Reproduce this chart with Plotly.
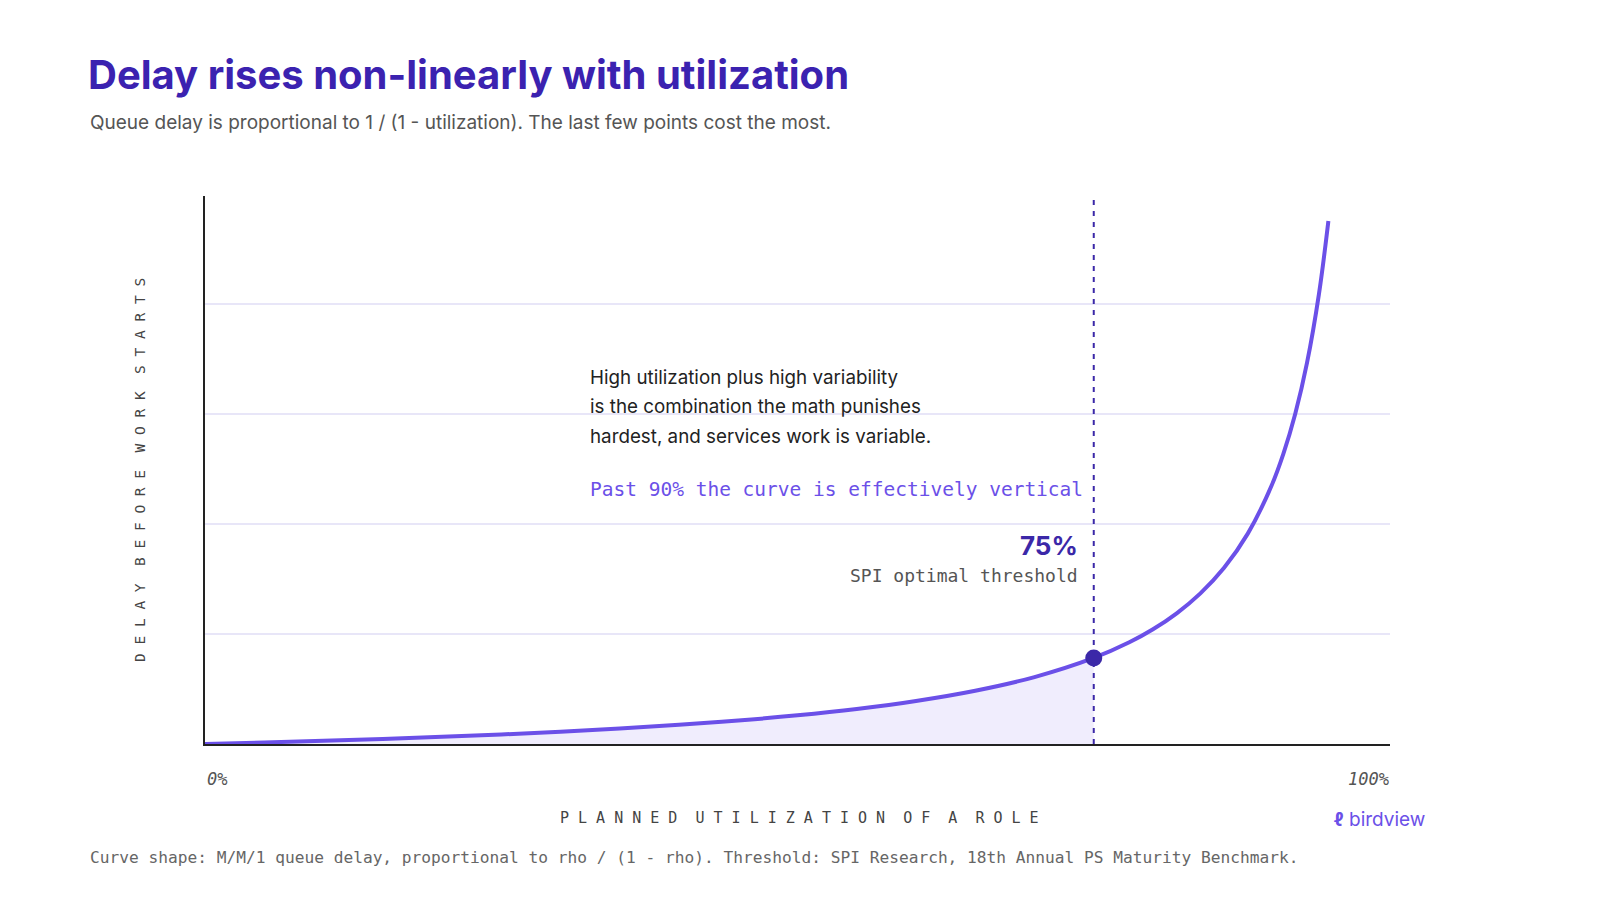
import plotly.graph_objects as go

utilization = [0, 0.05, 0.10, 0.15, 0.20, 0.25, 0.30, 0.35, 0.40, 0.45, 0.50, 0.55, 0.60, 0.65, 0.70, 0.75,
               0.78, 0.80, 0.82, 0.84, 0.86, 0.88, 0.90, 0.91, 0.92, 0.93, 0.94, 0.948]
delay = [0, 0.053, 0.111, 0.176, 0.25, 0.333, 0.429, 0.538, 0.667, 0.818, 1.0, 1.222, 1.5, 1.857, 2.333, 3.0,
         3.545, 4.0, 4.556, 5.25, 6.143, 7.333, 9.0, 10.11, 11.5, 13.29, 15.67, 18.23]
threshold_x = 0.75
threshold_y = 3.0
x_tick_labels = ["0%", "100%"]

PURPLE = "#6b50e8"
DARK = "#3b28a8"
MONO = "DejaVu Sans Mono"
SANS = "Inter"

fill_x = [u for u in utilization if u <= threshold_x]
fill_y = delay[:len(fill_x)]

fig = go.Figure()
fig.add_trace(go.Scatter(x=fill_x, y=fill_y, mode="lines", line=dict(width=0, shape="spline"),
                         fill="tozeroy", fillcolor="rgba(107,80,232,0.10)", hoverinfo="skip"))
fig.add_trace(go.Scatter(x=utilization, y=delay, mode="lines",
                         line=dict(color=PURPLE, width=4, shape="spline")))
fig.add_trace(go.Scatter(x=[threshold_x], y=[threshold_y], mode="markers",
                         marker=dict(color=DARK, size=17)))

fig.add_shape(type="line", x0=threshold_x, x1=threshold_x, y0=0, y1=1, yref="paper",
              line=dict(color=DARK, width=2, dash="5px,6px"))

W, H = 1600, 900
pl, pr, pt, pb = 205, 210, 196, 156
pw, ph = W - pl - pr, H - pt - pb

fig.update_layout(
    width=W, height=H, showlegend=False,
    paper_bgcolor="white", plot_bgcolor="white",
    margin=dict(l=pl, r=pr, t=pt, b=pb),
    xaxis=dict(range=[0, 1], showgrid=False, zeroline=False, showticklabels=False,
               showline=True, linecolor="#222222", linewidth=2),
    yaxis=dict(range=[0, 19.1], dtick=3.836, showgrid=True, gridcolor="#e8e6f8", gridwidth=1.5,
               zeroline=False, showticklabels=False, showline=True, linecolor="#222222", linewidth=1.5),
)

def px(x): return (x - pl) / pw
def py(y): return (H - pb - y) / ph

def P(text, x, y, size, color, font=SANS, xanchor="left", textangle=0):
    fig.add_annotation(text=text, x=px(x), y=py(y), xref="paper", yref="paper", showarrow=False,
                       xanchor=xanchor, yanchor="middle", textangle=textangle, align="left",
                       font=dict(family=font, size=size, color=color))

P("<b>Delay rises non-linearly with utilization</b>", 86, 75, 40, "#3b22b0", font="Inter")
P("Queue delay is proportional to 1 / (1 - utilization). The last few points cost the most.", 88, 122, 19, "#555555")
P("High utilization plus high variability", 588, 377, 18.8, "#222222")
P("is the combination the math punishes", 588, 406, 18.8, "#222222")
P("hardest, and services work is variable.", 588, 436, 18.8, "#222222")
P("Past 90% the curve is effectively vertical", 588, 489, 19.5, PURPLE, font=MONO)
P("<b>75%</b>", 1080, 545, 26, DARK, font="Inter", xanchor="right")
P("SPI optimal threshold", 1080, 575, 18, "#555555", font=MONO, xanchor="right")
P("<i>" + x_tick_labels[0] + "</i>", 205, 779, 17, "#555555", font=MONO)
P("<i>" + x_tick_labels[1] + "</i>", 1391, 779, 17, "#555555", font=MONO, xanchor="right")
P("P L A N N E D  U T I L I Z A T I O N  O F  A  R O L E", 799, 818, 15, "#444444", font=MONO, xanchor="center")
P("D E L A Y  B E F O R E  W O R K  S T A R T S", 140, 470, 14.5, "#444444", font=MONO, xanchor="center", textangle=-90)
P("<b>ℓ</b> birdview", 1332, 819, 19, PURPLE, font="Inter")
P("Curve shape: M/M/1 queue delay, proportional to rho / (1 - rho). Threshold: SPI Research, 18th Annual PS Maturity Benchmark.",
  88, 857, 16.2, "#666666", font=MONO)

fig.write_html("out.html", config={"displayModeBar": False})
with open("out.html", encoding="utf-8") as f:
    html = f.read()
html = html.replace("<body>", "<body style=\"margin:0\">", 1)
with open("out.html", "w", encoding="utf-8") as f:
    f.write(html)
